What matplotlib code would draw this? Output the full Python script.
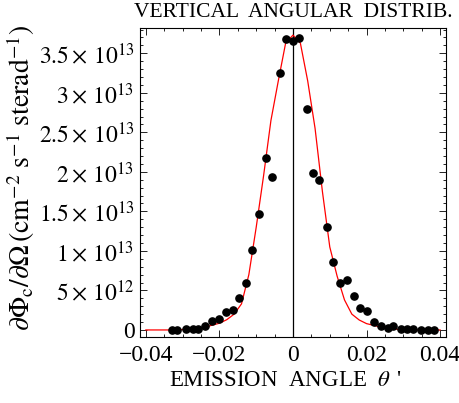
import matplotlib
matplotlib.use("Agg")
import matplotlib.pyplot as plt
from matplotlib.ticker import FixedLocator, MultipleLocator

plt.rcParams['font.family'] = ['Liberation Serif', 'DejaVu Serif']
plt.rcParams['mathtext.fontset'] = 'stix'

# data points (x: emission angle, y: units of 1e13)
data_x = [-0.0330, -0.0314, -0.0291, -0.0273, -0.0257, -0.0240, -0.0219, -0.0201,
          -0.0182, -0.0162, -0.0147, -0.0128, -0.0111, -0.0092, -0.0073, -0.0057,
          -0.0035, -0.0019, -0.0001, 0.0017, 0.0037, 0.0054, 0.0071, 0.0092,
          0.0110, 0.0128, 0.0146, 0.0166, 0.0182, 0.0201, 0.0221, 0.0239,
          0.0257, 0.0273, 0.0293, 0.0311, 0.0327, 0.0349, 0.0367, 0.0384]
data_y = [0.0, 0.0, 0.016, 0.016, 0.016, 0.054, 0.118, 0.135,
          0.231, 0.253, 0.408, 0.590, 1.011, 1.463, 2.181, 1.938,
          3.255, 3.675, 3.650, 3.698, 2.794, 1.985, 1.900, 1.306,
          0.864, 0.590, 0.632, 0.430, 0.274, 0.236, 0.097, 0.054,
          0.029, 0.054, 0.013, 0.013, 0.013, 0.0, 0.0, 0.0]

# model curve, units of 1e13
curve_x = [-0.04, -0.032, -0.028, -0.024, -0.020, -0.018, -0.016, -0.014, -0.012,
           -0.010, -0.008, -0.006, -0.004, -0.002, 0.0, 0.002, 0.004, 0.006,
           0.008, 0.010, 0.012, 0.014, 0.016, 0.018, 0.020, 0.024, 0.028, 0.032, 0.04]
curve_y = [0.0, 0.0, 0.01, 0.035, 0.085, 0.13, 0.2, 0.33, 0.7,
           1.3, 1.95, 2.65, 3.15, 3.63, 3.73, 3.63, 3.15, 2.55,
           1.75, 1.05, 0.68, 0.38, 0.2, 0.126, 0.08, 0.035, 0.01, 0.0, 0.0]

scale = 1e13
yticks = [0, 0.5, 1.0, 1.5, 2.0, 2.5, 3.0, 3.5]
ytick_labels = ["0", r"$5\times\,10^{12}$", r"$1\times\,10^{13}$", r"$1.5\times\,10^{13}$",
                r"$2\times\,10^{13}$", r"$2.5\times\,10^{13}$", r"$3\times\,10^{13}$",
                r"$3.5\times\,10^{13}$"]
xticks = [-0.04, -0.02, 0.0, 0.02, 0.04]
xtick_labels = ["\u22120.04", "\u22120.02", "0", "0.02", "0.04"]

fig = plt.figure(figsize=(4.6, 4.03), dpi=100)
ax = fig.add_axes([0.3043, 0.1638, 0.9696 - 0.3043, 0.9305 - 0.1638])

ax.plot(curve_x, [v * scale for v in curve_y], color='#ff0000', lw=0.9, zorder=2)
ax.axvline(0, color='black', lw=0.9, zorder=1)
ax.plot(data_x, [v * scale for v in data_y], 'o', color='black', ms=5.2, zorder=3)

ax.set_xlim(-0.0416, 0.0416)
ax.set_ylim(-0.089 * scale, 3.82 * scale)

ax.xaxis.set_major_locator(FixedLocator(xticks))
ax.set_xticklabels(xtick_labels)
ax.xaxis.set_minor_locator(MultipleLocator(0.005))
ax.yaxis.set_major_locator(FixedLocator([v * scale for v in yticks]))
ax.set_yticklabels(ytick_labels)
ax.yaxis.set_minor_locator(MultipleLocator(0.1 * scale))

ax.tick_params(which='both', direction='in', top=True, right=True, width=0.6)
ax.tick_params(which='major', length=5, labelsize=17, pad=4)
ax.tick_params(which='minor', length=2.5)
ax.tick_params(axis='x', which='major', pad=6)
for s in ax.spines.values():
    s.set_linewidth(0.8)

ax.set_xlabel("EMISSION  ANGLE  $\\theta\\,$ '", fontsize=16.5)
ax.xaxis.set_label_coords(0.474, -0.108)
ax.set_ylabel(r"$\partial\Phi_{\mathrm{c}}/\partial\Omega\,(\mathrm{cm}^{-2}\ \mathrm{s}^{-1}\ \mathrm{sterad}^{-1})$",
              fontsize=20)
ax.yaxis.set_label_coords(-0.335, 0.515)
ax.set_title("VERTICAL  ANGULAR  DISTRIB.", fontsize=15.5, pad=8)

fig.savefig("out.png", dpi=100)
